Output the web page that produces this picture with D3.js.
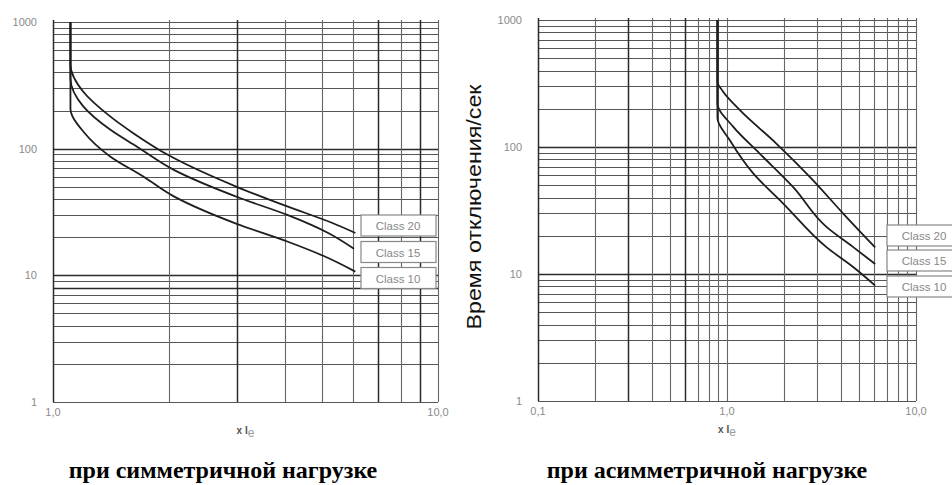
<!DOCTYPE html>
<html>
<head>
<meta charset="utf-8">
<script src="https://cdn.jsdelivr.net/npm/d3@7"></script>
<style>
  body { margin: 0; background: #fff; }
  text { font-family: "Liberation Sans", Arial, sans-serif; }
</style>
</head>
<body>
<svg id="chart" width="952" height="485"></svg>
<script>
// values: [multiple of Ie, trip time in s]
var classNames = ["Class 20", "Class 15", "Class 10"]

var symClass20 = [[1.11, 1000], [1.11, 460], [1.2, 280], [1.41, 179], [1.62, 132], [2.02, 87], [3.0, 50], [4.06, 35], [5.3, 26], [6.1, 21.6]]
var symClass15 = [[1.11, 1000], [1.11, 360], [1.2, 215], [1.41, 141], [1.65, 104], [2.06, 68], [3.07, 40.6], [4.06, 30], [5.2, 21.5], [6.05, 16.2]]
var symClass10 = [[1.11, 1000], [1.11, 208], [1.2, 136], [1.41, 86.5], [1.72, 60], [2.06, 42], [3.0, 25.5], [4.06, 18.5], [5.05, 14.2], [6.1, 10.7]]

var asymClass20 = [[0.89, 1000], [0.89, 326], [0.95, 275], [1.17, 195], [1.83, 106], [2.75, 58], [4.13, 29.8], [6.08, 16.2]]
var asymClass15 = [[0.89, 1000], [0.89, 221], [1.08, 144], [1.49, 88.7], [2.24, 48.3], [3.37, 23.4], [4.6, 16.5], [6.08, 12.0]]
var asymClass10 = [[0.89, 1000], [0.89, 169], [1.035, 113], [1.38, 61.7], [1.99, 35.7], [3.37, 16.2], [4.67, 11.3], [6.08, 8.1]]

var yTicks = [1, 10, 100, 1000]
var symXTicks = [1, 10]
var symXLabels = ["1,0", "10,0"]
var asymXTicks = [0.1, 1, 10]
var asymXLabels = ["0,1", "1,0", "10,0"]

var yTitle = "Время отключения/сек"
var symTitle = "при симметричной нагрузке"
var asymTitle = "при асимметричной нагрузке"

var svg = d3.select("#chart")

function near(list, v) {
  return list.some(function(b) { return Math.abs(b - v) < 1e-9 })
}

function panel(o) {
  var x = d3.scaleLog().domain(o.xDomain).range(o.xRange)
  var y = d3.scaleLog().domain([1, 1000]).range(o.yRange)
  var g = svg.append("g")

  // horizontal grid
  g.selectAll(".hg").data(y.ticks()).join("line")
    .attr("x1", o.xRange[0]).attr("x2", o.xRange[1])
    .attr("y1", function(d) { return Math.round(y(d)) + 0.5 })
    .attr("y2", function(d) { return Math.round(y(d)) + 0.5 })
    .attr("stroke", function(d) { return near(o.boldY, d) ? "#2a2a2a" : "#555" })
    .attr("stroke-width", function(d) { return near(o.boldY, d) ? 1.6 : 1.1 })

  // vertical grid
  g.selectAll(".vg").data(x.ticks()).join("line")
    .attr("y1", o.yRange[0]).attr("y2", o.yRange[1] - 2)
    .attr("x1", function(d) { return Math.round(x(d)) + 0.5 })
    .attr("x2", function(d) { return Math.round(x(d)) + 0.5 })
    .attr("stroke", function(d) { return near(o.boldX, d) ? "#2a2a2a" : "#666" })
    .attr("stroke-width", function(d) { return near(o.boldX, d) ? 1.5 : 1.1 })

  // y tick labels
  g.selectAll(".yl").data(yTicks).join("text")
    .attr("x", o.xRange[0] - 16).attr("y", function(d) { return y(d) })
    .attr("dy", "0.35em").attr("text-anchor", "end")
    .attr("font-size", 11).attr("fill", "#8a8a8a")
    .text(function(d) { return d })

  // x tick labels
  g.selectAll(".xl").data(o.xTicks).join("text")
    .attr("x", function(d) { return x(d) })
    .attr("y", o.yRange[0] + 14)
    .attr("text-anchor", "middle")
    .attr("font-size", 11).attr("fill", "#8a8a8a")
    .text(function(d, i) { return o.xLabels[i] })

  // x axis name: x Ie
  var xm = (o.xRange[0] + o.xRange[1]) / 2
  var t = g.append("text").attr("x", xm).attr("y", o.yRange[0] + 32)
    .attr("text-anchor", "middle").attr("font-size", 10).attr("fill", "#555")
  t.append("tspan").attr("font-weight", "bold").text("x I")
  t.append("tspan").attr("dy", 3).attr("font-size", 12).attr("fill", "#999").text("e")

  // curves
  var line = d3.line()
    .x(function(d) { return x(d[0]) })
    .y(function(d) { return y(d[1]) })
    .curve(d3.curveMonotoneY)

  g.selectAll(".curve").data(o.curves).join("path")
    .attr("d", line)
    .attr("fill", "none").attr("stroke", "#1e1e1e").attr("stroke-width", 1.8)

  // legend boxes
  g.selectAll(".lb").data(classNames).join("rect")
    .attr("x", o.legendX).attr("y", function(d, i) { return o.legendY[i] })
    .attr("width", 75).attr("height", 21)
    .attr("fill", "#fff").attr("stroke", "#888").attr("stroke-width", 1.2)
  g.selectAll(".lt").data(classNames).join("text")
    .attr("x", o.legendX + 37).attr("y", function(d, i) { return o.legendY[i] + 11 })
    .attr("dy", "0.35em").attr("text-anchor", "middle")
    .attr("font-size", 11.5).attr("fill", "#888")
    .text(function(d) { return d })

  // bottom title
  svg.append("text").attr("x", o.titleX).attr("y", 478)
    .attr("text-anchor", "middle")
    .style("font-family", "'Liberation Serif', 'Times New Roman', serif")
    .attr("font-weight", "bold").attr("font-size", 24).attr("fill", "#000")
    .text(o.title)
}

panel({
  xDomain: [1, 10], xRange: [53, 438], yRange: [402, 22],
  xTicks: symXTicks, xLabels: symXLabels,
  boldX: [1, 3, 7, 9], boldY: [100, 8, 10],
  curves: [symClass20, symClass15, symClass10],
  legendX: 361, legendY: [215, 241.5, 267.5],
  title: symTitle, titleX: 223
})

panel({
  xDomain: [0.1, 10], xRange: [538, 916], yRange: [401, 20],
  xTicks: asymXTicks, xLabels: asymXLabels,
  boldX: [0.1, 0.3, 0.6], boldY: [10, 100],
  curves: [asymClass20, asymClass15, asymClass10],
  legendX: 887, legendY: [225, 250, 276],
  title: asymTitle, titleX: 707
})

// shared y axis title
svg.append("text")
  .attr("transform", "translate(481,207) rotate(-90)")
  .attr("text-anchor", "middle")
  .attr("font-size", 21).attr("fill", "#111")
  .attr("textLength", 245).attr("lengthAdjust", "spacingAndGlyphs")
  .text(yTitle)
</script>
</body>
</html>
